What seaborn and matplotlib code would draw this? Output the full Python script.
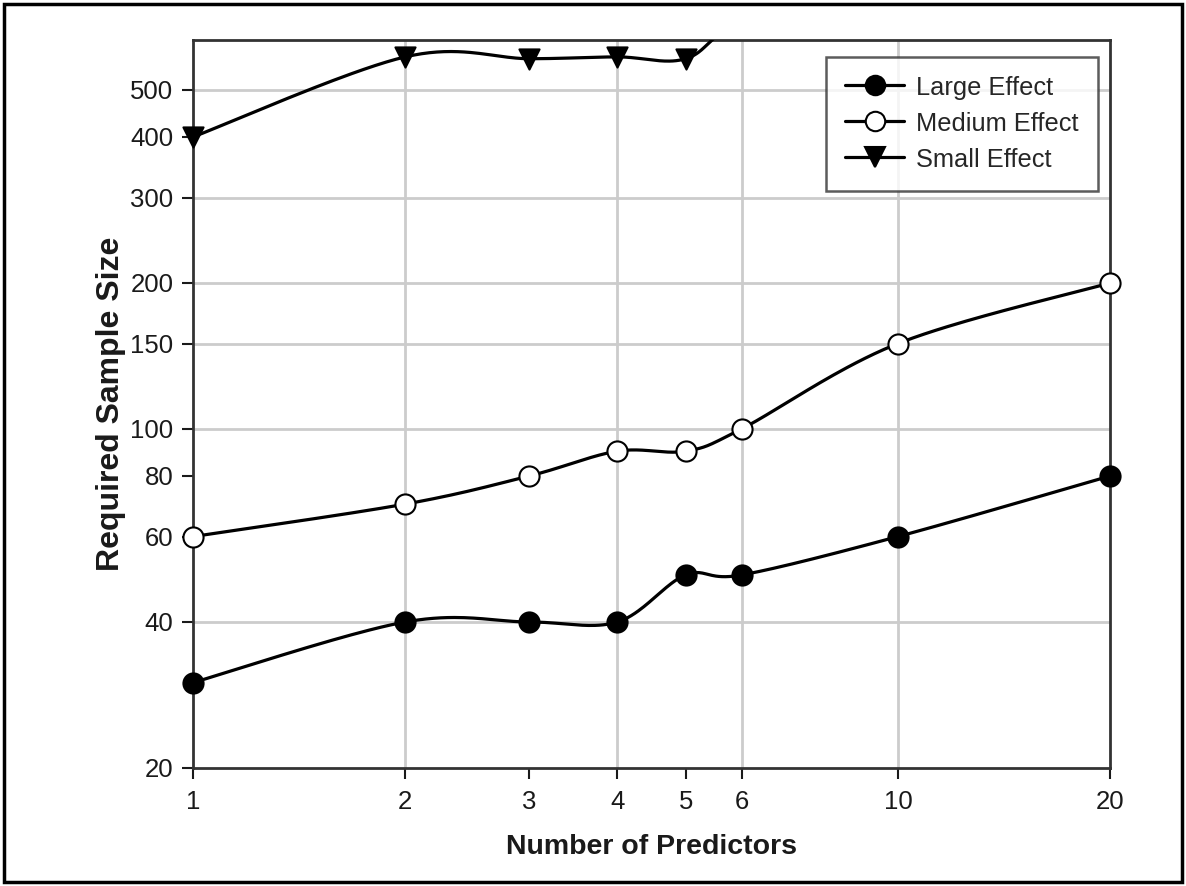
import numpy as np
import pandas as pd
import seaborn as sns
import matplotlib.pyplot as plt
from matplotlib.lines import Line2D
from matplotlib.patches import Rectangle

# Values
predictors = [1, 2, 3, 4, 5, 6, 10, 20]
large_effect = [30, 40, 40, 40, 50, 50, 60, 80]
medium_effect = [60, 70, 80, 90, 90, 100, 150, 200]
small_effect = [400, 585, 580, 585, 580, 700, 1000, 1500]

y_ticks = [20, 40, 60, 80, 100, 150, 200, 300, 400, 500]
y_grid = [40, 100, 150, 200, 300, 500]
x_grid = [2, 4, 6, 10]


def smooth(xs, ys, n=40):
    # Excel-style smoothed line: Bezier segments with Catmull-Rom control points,
    # computed in log-log space since both axes are logarithmic
    lx, ly = np.log10(xs), np.log10(ys)
    pts = np.column_stack([lx, ly])
    out = []
    for i in range(len(pts) - 1):
        p0 = pts[max(i - 1, 0)]
        p1 = pts[i]
        p2 = pts[i + 1]
        p3 = pts[min(i + 2, len(pts) - 1)]
        c1 = p1 + (p2 - p0) / 6
        c2 = p2 - (p3 - p1) / 6
        t = np.linspace(0, 1, n)[:, None]
        seg = ((1 - t) ** 3) * p1 + 3 * ((1 - t) ** 2) * t * c1 + 3 * (1 - t) * t ** 2 * c2 + t ** 3 * p2
        out.append(seg if i == 0 else seg[1:])
    out = np.vstack(out)
    return 10 ** out[:, 0], 10 ** out[:, 1]


series = {
    'Large Effect': (large_effect, 'o', 'black'),
    'Medium Effect': (medium_effect, 'o', 'white'),
    'Small Effect': (small_effect, 'v', 'black'),
}

sns.set_theme(style='white')
plt.rcParams['font.family'] = ['Liberation Sans', 'DejaVu Sans']

fig = plt.figure(figsize=(11.86, 8.86), dpi=100)
ax = fig.add_axes([0.1627, 0.1332, 0.936 - 0.1627, 0.9549 - 0.1332])

# markers may spill past the left/right spines but not above the top one
marker_clip = Rectangle((-0.05, -0.05), 1.1, 1.05, transform=ax.transAxes,
                        fill=False, edgecolor='none')
ax.add_patch(marker_clip)

for name, (vals, marker, face) in series.items():
    sx, sy = smooth(predictors, vals)
    curve = pd.DataFrame({'x': sx, 'y': sy})
    sns.lineplot(data=curve, x='x', y='y', sort=False, estimator=None,
                 color='black', linewidth=2.3, ax=ax, zorder=3)
    pts = pd.DataFrame({'x': predictors, 'y': vals})
    sns.scatterplot(data=pts, x='x', y='y', marker=marker, s=210,
                    color=face, edgecolor='black', linewidth=1.5, ax=ax, zorder=4)
    ax.collections[-1].set_clip_path(marker_clip)

ax.set_xscale('log')
ax.set_yscale('log')
ax.set_xlim(1, 20)
ax.set_ylim(20, 634)

for g in y_grid:
    ax.axhline(g, color='#cccccc', linewidth=2, zorder=1)
for g in x_grid:
    ax.axvline(g, color='#cccccc', linewidth=2, zorder=1)

ax.set_xticks(predictors)
ax.set_xticklabels([str(p) for p in predictors])
ax.set_yticks(y_ticks)
ax.set_yticklabels([str(t) for t in y_ticks])
ax.minorticks_off()
ax.tick_params(axis='both', which='major', labelsize=18.5, colors='#1a1a1a',
               direction='out', length=8, width=1.5, left=True, bottom=True)
ax.tick_params(axis='x', pad=8)
ax.tick_params(axis='y', pad=6)

for side in ['left', 'bottom', 'right', 'top']:
    ax.spines[side].set_color('#333333')
    ax.spines[side].set_linewidth(2)
    ax.spines[side].set_visible(True)

ax.set_xlabel('Number of Predictors', fontsize=20.5, fontweight='bold', labelpad=14,
              color='#1a1a1a')
ax.set_ylabel('Required Sample Size', fontsize=23, fontweight='bold', labelpad=3,
              color='#1a1a1a')

handles = [
    Line2D([], [], color='black', linewidth=2.3, marker=m, markersize=14,
           markerfacecolor=f, markeredgecolor='black', markeredgewidth=1.5)
    for (_, m, f) in series.values()
]
leg = ax.legend(handles, list(series.keys()), loc='upper right',
                bbox_to_anchor=(0.987, 0.977), borderaxespad=0, fontsize=18.3,
                frameon=True, fancybox=False, edgecolor='#333333', handlelength=2.3,
                handleheight=0.9, labelspacing=0.45, borderpad=0.75,
                handletextpad=0.5)
leg.get_frame().set_linewidth(1.8)
leg.set_zorder(10)

# Outer border around the whole picture
fig.patches.append(Rectangle((0.003, 0.004), 0.994, 0.992, transform=fig.transFigure,
                             fill=False, edgecolor='black', linewidth=2.5))

fig.savefig('out.png', dpi=100)
